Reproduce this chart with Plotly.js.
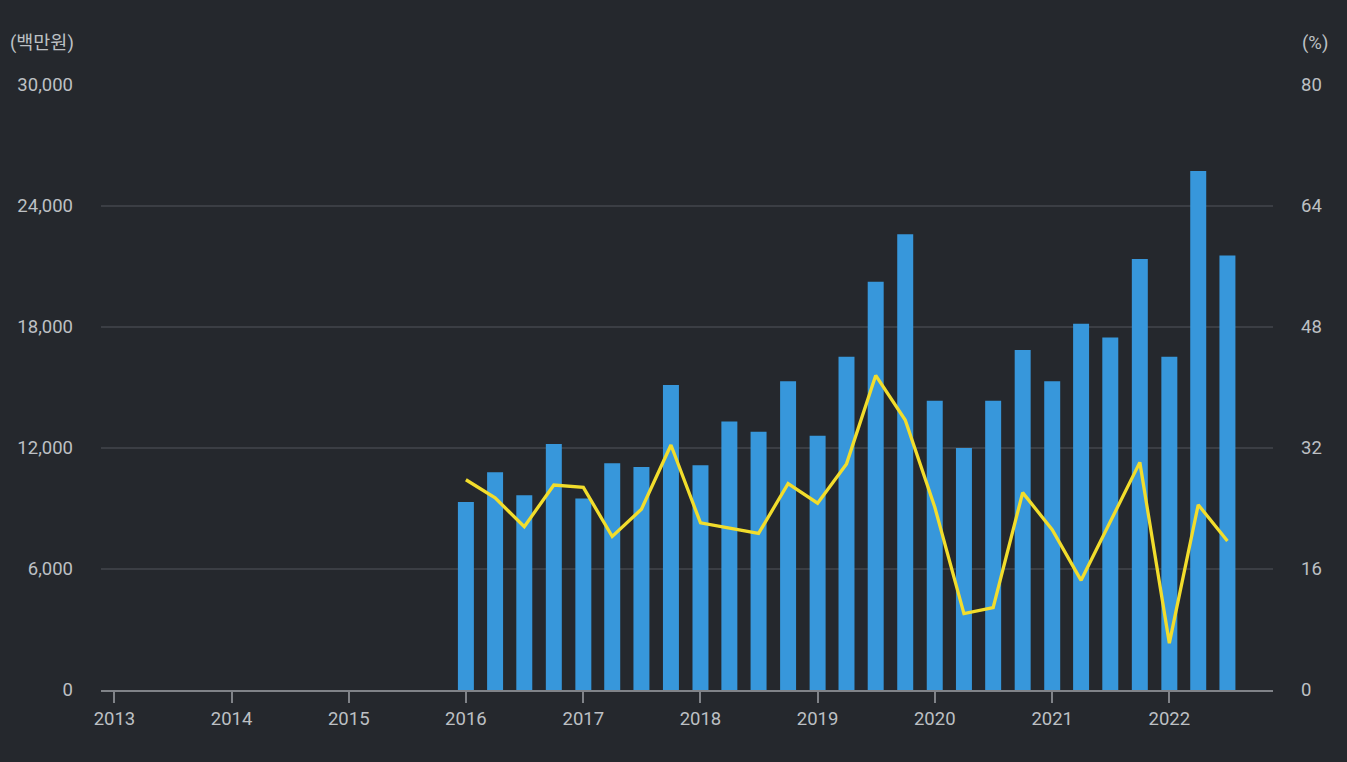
<!DOCTYPE html>
<html>
<head>
<meta charset="utf-8">
<script src="https://cdn.plot.ly/plotly-3.0.1.min.js"></script>
<style>
  html, body { margin: 0; padding: 0; background: #25282d; }
  #chart { width: 1347px; height: 762px; }
</style>
</head>
<body>
<div id="chart"></div>
<script>
const periods = [
  '2016-01-01','2016-04-01','2016-07-01','2016-10-01',
  '2017-01-01','2017-04-01','2017-07-01','2017-10-01',
  '2018-01-01','2018-04-01','2018-07-01','2018-10-01',
  '2019-01-01','2019-04-01','2019-07-01','2019-10-01',
  '2020-01-01','2020-04-01','2020-07-01','2020-10-01',
  '2021-01-01','2021-04-01','2021-07-01','2021-10-01',
  '2022-01-01','2022-04-01','2022-07-01'
];
const amounts = [
  9320, 10800, 9660, 12200,
  9490, 11240, 11060, 15130,
  11150, 13320, 12800, 15310,
  12610, 16520, 20250, 22600,
  14340, 12000, 14340, 16860,
  15310, 18160, 17480, 21370,
  16520, 25740, 21550
];
const rates = [
  27.8, 25.4, 21.6, 27.1,
  26.8, 20.3, 23.9, 32.4,
  22.1, 21.4, 20.7, 27.3,
  24.7, 29.9, 41.6, 35.7,
  24.2, 10.1, 10.9, 26.1,
  21.2, 14.5, 22.3, 30.1,
  6.2, 24.5, 19.7
];
const yearTicks = ['2013-01-01','2014-01-01','2015-01-01','2016-01-01','2017-01-01',
                   '2018-01-01','2019-01-01','2020-01-01','2021-01-01','2022-01-01'];
const yearLabels = ['2013','2014','2015','2016','2017','2018','2019','2020','2021','2022'];
const leftTicks = [0, 6000, 12000, 18000, 24000, 30000];
const rightTicks = [0, 16, 32, 48, 64, 80];

const FONT = "Roboto, 'Noto Sans CJK KR', sans-serif";
const TXT = '#bdc0c4';
const FS = 18.5;
const DAY = 86400000;

const traces = [
  {
    type: 'bar',
    x: periods,
    y: amounts,
    width: 49.8 * DAY,
    marker: { color: '#3797db', line: { width: 0 } },
    yaxis: 'y',
    hoverinfo: 'x+y'
  },
  {
    type: 'scatter',
    mode: 'lines',
    x: periods,
    y: rates,
    line: { color: '#f2dd2c', width: 3.3 },
    yaxis: 'y2'
  }
];

const layout = {
  width: 1347,
  height: 762,
  paper_bgcolor: '#25282d',
  plot_bgcolor: '#25282d',
  margin: { l: 101, r: 74, t: 85, b: 72 },
  showlegend: false,
  font: { family: FONT, size: FS, color: TXT },
  xaxis: {
    type: 'date',
    range: ['2012-11-20', '2022-11-20'],
    tickmode: 'array',
    tickvals: yearTicks,
    ticktext: yearLabels,
    ticks: 'outside',
    ticklen: 11,
    tickwidth: 2,
    tickcolor: '#808388',
    showline: true,
    linecolor: '#808388',
    linewidth: 2,
    showgrid: false,
    zeroline: false,
    tickfont: { family: FONT, size: FS, color: TXT },
    fixedrange: true
  },
  yaxis: {
    range: [0, 30000],
    tickmode: 'array',
    tickvals: leftTicks,
    ticktext: leftTicks.map(v => v.toLocaleString('en-US')),
    showgrid: true,
    gridcolor: '#3b3e44',
    gridwidth: 2,
    zeroline: false,
    showline: false,
    ticks: '',
    ticklabelstandoff: 27,
    tickfont: { family: FONT, size: FS, color: TXT },
    fixedrange: true
  },
  yaxis2: {
    overlaying: 'y',
    side: 'right',
    range: [0, 80],
    tickmode: 'array',
    tickvals: rightTicks,
    ticktext: rightTicks.map(String),
    showgrid: false,
    zeroline: false,
    showline: false,
    ticks: '',
    ticklabelstandoff: 27,
    tickfont: { family: FONT, size: FS, color: TXT },
    fixedrange: true
  },
  annotations: [
    {
      text: '(백만원)', xref: 'paper', yref: 'paper',
      x: (8 - 101) / 1172, y: (690 - 43) / 605,
      xanchor: 'left', yanchor: 'middle', showarrow: false,
      font: { family: FONT, size: FS, color: TXT }
    },
    {
      text: '(%)', xref: 'paper', yref: 'paper',
      x: (1330 - 101) / 1172, y: (690 - 43) / 605,
      xanchor: 'right', yanchor: 'middle', showarrow: false,
      font: { family: FONT, size: FS, color: TXT }
    }
  ]
};

Plotly.newPlot('chart', traces, layout, { displayModeBar: false, staticPlot: true });
</script>
</body>
</html>
